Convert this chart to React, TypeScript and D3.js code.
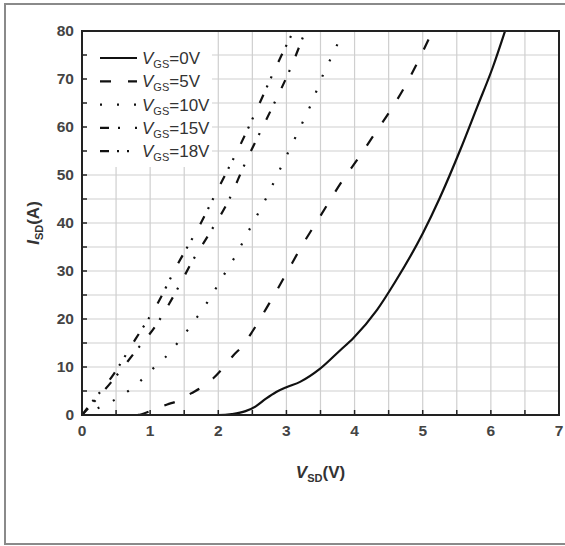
import React from 'react';
import * as d3 from 'd3';

// Curves: [V_SD, I_SD]
const vgs0: [number, number][] = [
  [0, 0], [2.0, 0], [2.2, 0.2], [2.4, 0.8], [2.55, 1.8], [2.7, 3.4], [2.85, 4.8],
  [3.0, 5.8], [3.2, 6.9], [3.49, 9.6], [3.79, 13.5], [3.98, 16], [4.33, 21.9],
  [4.59, 27.6], [5.0, 37.8], [5.25, 45.2], [5.55, 55.2], [5.8, 64.2], [6.03, 72.5], [6.22, 80.5],
];
const vgs5: [number, number][] = [
  [0, 0], [0.8, 0], [1.0, 0.8], [1.25, 2.2], [1.4, 2.9], [1.6, 4.5], [1.77, 5.9],
  [1.93, 7.7], [2.07, 9.8], [2.22, 12.4], [2.35, 14.3], [2.5, 17.4], [2.75, 23.3],
  [3.0, 29.5], [3.2, 34.6], [3.5, 41.5], [3.83, 49], [4.08, 54], [4.3, 58.7],
  [4.55, 64], [4.76, 69], [4.96, 74.5], [5.16, 80.5],
];
const vgs10: [number, number][] = [
  [0, 0], [0.23, 1.4], [0.46, 3], [0.67, 4.9], [0.85, 7], [1.03, 9.5], [1.22, 12],
  [1.39, 14.8], [1.55, 17.7], [1.7, 20.6], [1.84, 23.5], [1.97, 26.5], [2.1, 29.6],
  [2.23, 32.6], [2.47, 39], [2.71, 45.4], [2.93, 51.9], [3.14, 58.1], [3.36, 64.7],
  [3.55, 71.3], [3.76, 77.7], [3.83, 80.5],
];
const vgs15: [number, number][] = [
  [0, 0], [0.42, 6.7], [0.76, 12.8], [1.1, 19], [1.36, 25.2], [1.63, 32.3],
  [1.9, 38.5], [2.17, 45.2], [2.37, 51.7], [2.61, 58.8], [2.83, 65.2], [3.05, 71.9], [3.29, 80.5],
];
const vgs18: [number, number][] = [
  [0, 0], [0.08, 1.5], [0.45, 8.2], [0.78, 15.7], [1.1, 23], [1.4, 31.3],
  [1.73, 39.6], [2.01, 47.5], [2.3, 55.6], [2.57, 63.8], [2.83, 72], [3.12, 80.5],
];

const seriesNames = ['=0V', '=5V', '=10V', '=15V', '=18V'];
const seriesData = [vgs0, vgs5, vgs10, vgs15, vgs18];
const dashes = ['', '11,17', '2,15', '9,9,2,15', '9,8,2,8,2,16'];

const xTicks = [0, 1, 2, 3, 4, 5, 6, 7];
const yTicks = [0, 10, 20, 30, 40, 50, 60, 70, 80];

const W = 565;
const H = 546;
const margin = { top: 31, right: 6, bottom: 131, left: 82 };

export default function App() {
  const x = d3.scaleLinear().domain([0, 7]).range([margin.left, W - margin.right]);
  const y = d3.scaleLinear().domain([0, 80]).range([H - margin.bottom, margin.top]);
  const line = d3.line<[number, number]>()
    .x(d => x(d[0]))
    .y(d => y(d[1]))
    .curve(d3.curveMonotoneX);

  const xGrid = d3.range(0.5, 7, 0.5);
  const yGrid = d3.range(5, 80, 5);
  const font = "'Liberation Sans', Arial, sans-serif";
  const [x0, x1] = x.range();
  const [y0, y1] = y.range();

  return (
    <svg width={W} height={H} style={{ position: 'absolute', left: 0, top: 0, background: '#fff' }}
      fontFamily={font}>
      <defs>
        <clipPath id="plot">
          <rect x={x0} y={y1} width={x1 - x0} height={y0 - y1} />
        </clipPath>
      </defs>
      <rect x={5} y={4} width={580} height={540} fill="#fff" stroke="#8a8a8a" strokeWidth={2} />

      {/* grid */}
      <g stroke="#cfcfcf" strokeWidth={1.2}>
        {xGrid.map(v => <line key={'gx' + v} x1={x(v)} x2={x(v)} y1={y1} y2={y0} />)}
        {yGrid.map(v => <line key={'gy' + v} x1={x0} x2={x1} y1={y(v)} y2={y(v)} />)}
      </g>

      {/* legend box hides the grid */}
      <rect x={x0 + 2} y={y1 + 1} width={128} height={135} fill="#fff" />

      {/* inward ticks */}
      <g stroke="#222" strokeWidth={1.5}>
        {d3.range(0.5, 7, 0.5).map(v => <line key={'tx' + v} x1={x(v)} x2={x(v)} y1={y0} y2={y0 - 5} />)}
        {d3.range(5, 80, 5).map(v => <line key={'ty' + v} x1={x0} x2={x0 + 5} y1={y(v)} y2={y(v)} />)}
      </g>

      {/* curves */}
      <g clipPath="url(#plot)" fill="none" stroke="#111" strokeWidth={2.2}>
        {seriesData.map((d, i) => (
          <path key={i} d={line(d) || ''} strokeDasharray={dashes[i] || undefined}
            strokeLinecap="butt" />
        ))}
      </g>

      <rect x={x0} y={y1} width={x1 - x0} height={y0 - y1} fill="none" stroke="#222" strokeWidth={2} />

      {/* tick labels */}
      <g fill="#444" fontSize={15.5} fontWeight="bold">
        {xTicks.map(v => (
          <text key={'lx' + v} x={x(v)} y={y0 + 21} textAnchor="middle">{v}</text>
        ))}
        {yTicks.map(v => (
          <text key={'ly' + v} x={x0 - 8} y={y(v) + 5} textAnchor="end">{v}</text>
        ))}
      </g>

      {/* axis titles */}
      <text x={(x0 + x1) / 2} y={478} textAnchor="middle" fill="#333" fontSize={17} fontWeight="bold">
        <tspan fontStyle="italic">V</tspan>
        <tspan fontSize={11} dy={4}>SD</tspan>
        <tspan dy={-4}>(V)</tspan>
      </text>
      <text transform={`translate(39,${(y0 + y1) / 2}) rotate(-90)`} textAnchor="middle" fill="#333"
        fontSize={17} fontWeight="bold">
        <tspan fontStyle="italic">I</tspan>
        <tspan fontSize={11} dy={4}>SD</tspan>
        <tspan dy={-4}>(A)</tspan>
      </text>

      {/* legend */}
      <g>
        {seriesNames.map((name, i) => {
          const ly = 58 + i * 23.3;
          return (
            <g key={name}>
              <line x1={100} x2={137} y1={ly} y2={ly} stroke="#111" strokeWidth={2.2}
                strokeDasharray={dashes[i] || undefined} />
              <text x={142} y={ly + 6} fill="#333" fontSize={17}>
                <tspan fontStyle="italic">V</tspan>
                <tspan fontSize={11} dy={4}>GS</tspan>
                <tspan dy={-4}>{name}</tspan>
              </text>
            </g>
          );
        })}
      </g>
    </svg>
  );
}
